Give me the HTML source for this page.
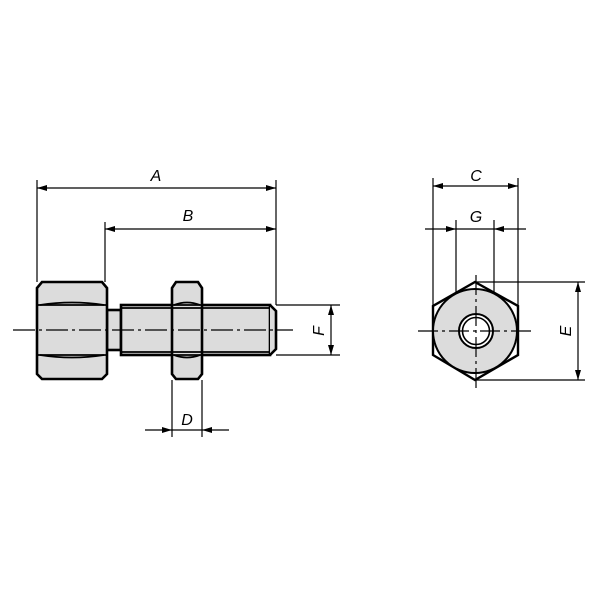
<!DOCTYPE html>
<html><head><style>body{margin:0;background:#fff}svg{display:block}</style></head><body>
<svg width="600" height="600" viewBox="0 0 600 600" xmlns="http://www.w3.org/2000/svg">
<defs>
<marker id="ar" viewBox="0 0 10 6" refX="10" refY="3" markerWidth="11" markerHeight="6" markerUnits="userSpaceOnUse" orient="auto-start-reverse"><path d="M0,0 L10,3 L0,6z" fill="#000"/></marker>
</defs>
<g stroke="#000" stroke-width="1.2" fill="none">
<line x1="37" y1="180" x2="37" y2="282"/>
<line x1="276" y1="180" x2="276" y2="305"/>
<line x1="105" y1="222" x2="105" y2="282"/>
<line x1="172" y1="380" x2="172" y2="437"/>
<line x1="202" y1="380" x2="202" y2="437"/>
<line x1="276" y1="305" x2="340" y2="305"/>
<line x1="276" y1="355" x2="340" y2="355"/>
<line x1="37" y1="188" x2="276" y2="188" marker-start="url(#ar)" marker-end="url(#ar)"/>
<line x1="105" y1="229" x2="276" y2="229" marker-start="url(#ar)" marker-end="url(#ar)"/>
<line x1="331" y1="305" x2="331" y2="355" marker-start="url(#ar)" marker-end="url(#ar)"/>
<line x1="145" y1="430" x2="172" y2="430" marker-end="url(#ar)"/>
<line x1="229" y1="430" x2="202" y2="430" marker-end="url(#ar)"/>
<line x1="172" y1="430" x2="202" y2="430"/>
</g>
<g stroke="#000" stroke-width="2.6" fill="#dcdcdc">
<rect x="107" y="310" width="14" height="40"/>
<rect x="121" y="305" width="149" height="50"/>
<path d="M270,305 L276,311 L276,349 L270,355"/>
<path d="M42,282 L102,282 L107,288 L107,374 L102,379 L42,379 L37,374 L37,288Z"/>
<path d="M176,282 L198,282 L202,288 L202,374 L198,379 L176,379 L172,374 L172,288Z"/>
</g>
<g stroke="#000" stroke-width="1.8" fill="none">
<line x1="121" y1="308" x2="270" y2="308"/>
<line x1="121" y1="352" x2="270" y2="352"/>
<path d="M40,305 Q72,300 104,305"/><path d="M40,355 Q72,360 104,355"/>
<path d="M174,305 Q187,300 200,305"/><path d="M174,355 Q187,360 200,355"/>
<line x1="38" y1="305" x2="106" y2="305"/><line x1="38" y1="355" x2="106" y2="355"/>
<line x1="173" y1="305" x2="201" y2="305"/><line x1="173" y1="355" x2="201" y2="355"/>
</g>
<line x1="13" y1="330" x2="293" y2="330" stroke="#000" stroke-width="1.2" stroke-dasharray="22,4,3,4"/>
<g stroke="#000" stroke-width="1.2" fill="none">
<line x1="433" y1="178" x2="433" y2="306"/>
<line x1="518" y1="178" x2="518" y2="306"/>
<line x1="456" y1="220" x2="456" y2="331"/>
<line x1="494" y1="220" x2="494" y2="315"/>
<line x1="475" y1="282" x2="585" y2="282"/>
<line x1="475" y1="380" x2="585" y2="380"/>
<line x1="433" y1="186" x2="518" y2="186" marker-start="url(#ar)" marker-end="url(#ar)"/>
<line x1="425" y1="229" x2="456" y2="229" marker-end="url(#ar)"/>
<line x1="526" y1="229" x2="494" y2="229" marker-end="url(#ar)"/>
<line x1="456" y1="229" x2="494" y2="229"/>
<line x1="578" y1="282" x2="578" y2="380" marker-start="url(#ar)" marker-end="url(#ar)"/>
</g>
<polygon points="475,282 518,306 518,355 475,380 433,355 433,306" fill="#fff" stroke="#000" stroke-width="2.4"/>
<circle cx="475" cy="331" r="42" fill="#dcdcdc" stroke="#000" stroke-width="2"/>
<circle cx="476" cy="331" r="17" fill="#fff" stroke="#000" stroke-width="2"/>
<circle cx="476" cy="331" r="13.5" fill="#fff" stroke="#000" stroke-width="1.6"/>
<g stroke="#000" stroke-width="1.2" stroke-dasharray="20,4,3,4">
<line x1="418" y1="331" x2="532" y2="331"/>
<line x1="476" y1="275" x2="476" y2="388"/>
</g>
<g font-family="Liberation Sans, sans-serif" font-size="16" font-style="italic" text-anchor="middle">
<text x="156" y="181">A</text>
<text x="188" y="221">B</text>
<text x="187" y="425">D</text>
<text x="476" y="181">C</text>
<text x="476" y="222">G</text>
<text transform="translate(324,331) rotate(-90)">F</text>
<text transform="translate(571,331) rotate(-90)">E</text>
</g>
</svg>
</body></html>
